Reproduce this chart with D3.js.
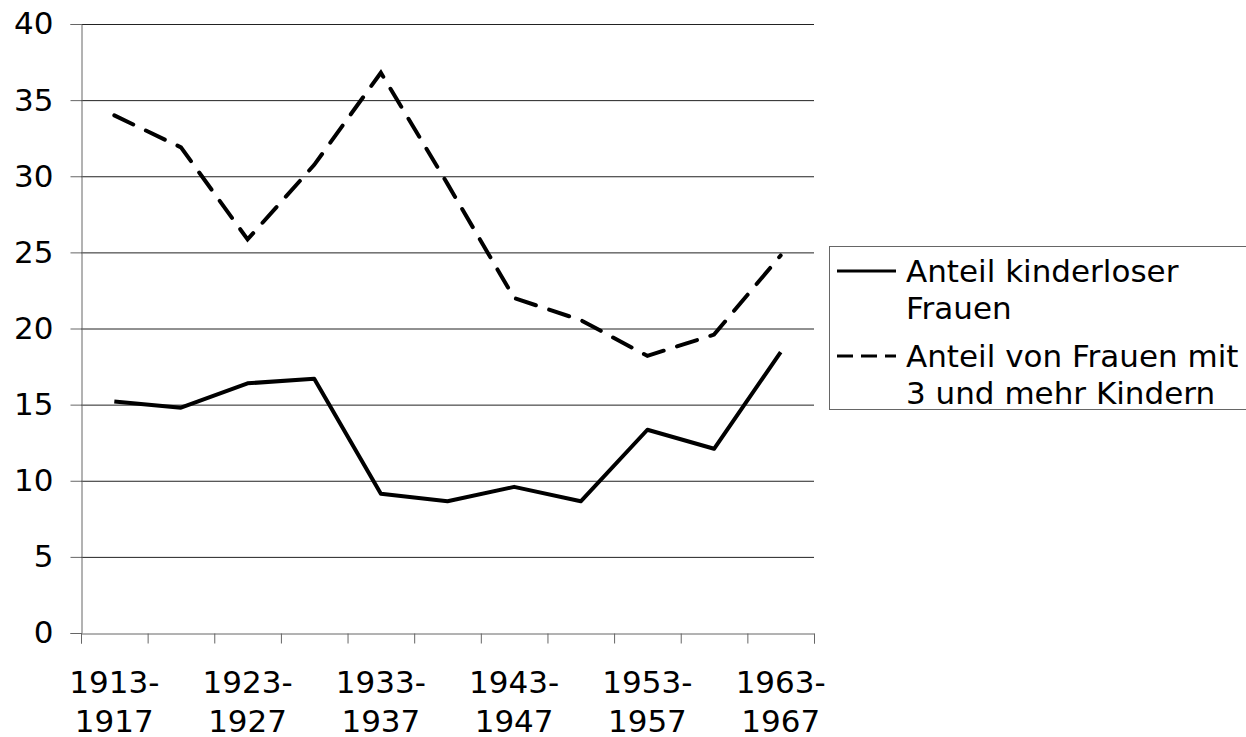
<!DOCTYPE html>
<html>
<head>
<meta charset="utf-8">
<script src="https://cdn.jsdelivr.net/npm/d3@7"></script>
<style>
  html, body { margin: 0; padding: 0; background: #fff; }
  svg { display: block; font-family: "DejaVu Sans", Verdana, sans-serif; }
</style>
</head>
<body>
<svg width="1246" height="737"></svg>
<script>
const categories = [
  "1913-1917", "1918-1922", "1923-1927", "1928-1932", "1933-1937", "1938-1942",
  "1943-1947", "1948-1952", "1953-1957", "1958-1962", "1963-1967",
];
const childless = [15.2, 14.8, 16.4, 16.7, 9.15, 8.65, 9.6, 8.65, 13.35, 12.1, 18.45];
const threePlus = [34.0, 31.9, 25.85, 30.75, 36.8, 29.5, 22.0, 20.55, 18.2, 19.6, 24.8];
const yTicks = [0, 5, 10, 15, 20, 25, 30, 35, 40];
const seriesNames = [
  ["Anteil kinderloser", "Frauen"],
  ["Anteil von Frauen mit", "3 und mehr Kindern"],
];

const FONT = 31;
const svg = d3.select("svg");
const plotLeft = 81, plotRight = 814, plotTop = 24, plotBottom = 633;

const x = d3.scaleBand().domain(categories).range([plotLeft, plotRight]);
const xEdge = d3.scaleLinear().domain([0, categories.length]).range([plotLeft, plotRight]);
const y = d3.scaleLinear().domain([0, 40]).range([plotBottom, plotTop]);
const cx = c => x(c) + x.bandwidth() / 2;

// gridlines
svg.append("g")
  .selectAll("line")
  .data(yTicks.filter(t => t > 0))
  .join("line")
  .attr("x1", plotLeft)
  .attr("x2", plotRight)
  .attr("y1", d => y(d) + 0.5)
  .attr("y2", d => y(d) + 0.5)
  .attr("stroke", "#222")
  .attr("stroke-width", 1);

// y axis
const yAxis = svg.append("g")
  .attr("transform", `translate(${plotLeft + 0.5},0)`)
  .call(d3.axisLeft(y).tickValues(yTicks).tickSize(11).tickPadding(17));
yAxis.select(".domain").attr("stroke", "#666");
yAxis.selectAll(".tick line").attr("stroke", "#666");
yAxis.selectAll("text")
  .attr("font-size", FONT)
  .attr("fill", "#000")
  .attr("font-family", "DejaVu Sans, Verdana, sans-serif");

// x axis (ticks at band edges)
const xAxis = svg.append("g")
  .attr("transform", `translate(0,${plotBottom + 0.5})`)
  .call(d3.axisBottom(xEdge).tickValues(d3.range(categories.length + 1)).tickSize(10).tickFormat(""));
xAxis.select(".domain").attr("stroke", "#666");
xAxis.selectAll(".tick line").attr("stroke", "#666");

// x labels, every other category
const labels = svg.append("g")
  .selectAll("text")
  .data(categories.filter((_, i) => i % 2 === 0))
  .join("text")
  .attr("text-anchor", "middle")
  .attr("font-size", FONT)
  .attr("fill", "#000");
labels.append("tspan")
  .attr("x", d => cx(d))
  .attr("y", 693)
  .text(d => d.split("-")[0] + "-");
labels.append("tspan")
  .attr("x", d => cx(d))
  .attr("y", 732)
  .text(d => d.split("-")[1]);

// lines
const line = d3.line().x(d => cx(d[0])).y(d => y(d[1]));
svg.append("path")
  .datum(categories.map((c, i) => [c, childless[i]]))
  .attr("d", line)
  .attr("fill", "none")
  .attr("stroke", "#000")
  .attr("stroke-width", 4)
  .attr("stroke-linejoin", "round");
svg.append("path")
  .datum(categories.map((c, i) => [c, threePlus[i]]))
  .attr("d", line)
  .attr("fill", "none")
  .attr("stroke", "#000")
  .attr("stroke-width", 4)
  .attr("stroke-dasharray", "21,14")
  .attr("stroke-linecap", "round");

// legend
const legend = svg.append("g");
legend.append("rect")
  .attr("x", 829.5)
  .attr("y", 246.5)
  .attr("width", 430)
  .attr("height", 163)
  .attr("fill", "#fff")
  .attr("stroke", "#666");
const items = legend.selectAll("g")
  .data(seriesNames)
  .join("g")
  .attr("transform", (_, i) => `translate(0,${i * 85})`);
items.append("line")
  .attr("x1", 837)
  .attr("x2", 896)
  .attr("y1", 271)
  .attr("y2", 271)
  .attr("stroke", "#000")
  .attr("stroke-width", 3)
  .attr("stroke-dasharray", (_, i) => i === 1 ? "16,8" : null);
items.append("text")
  .attr("font-size", FONT)
  .attr("fill", "#000")
  .selectAll("tspan")
  .data(d => d)
  .join("tspan")
  .attr("x", 906)
  .attr("y", (_, j) => 282 + j * 37)
  .text(d => d);
</script>
</body>
</html>
